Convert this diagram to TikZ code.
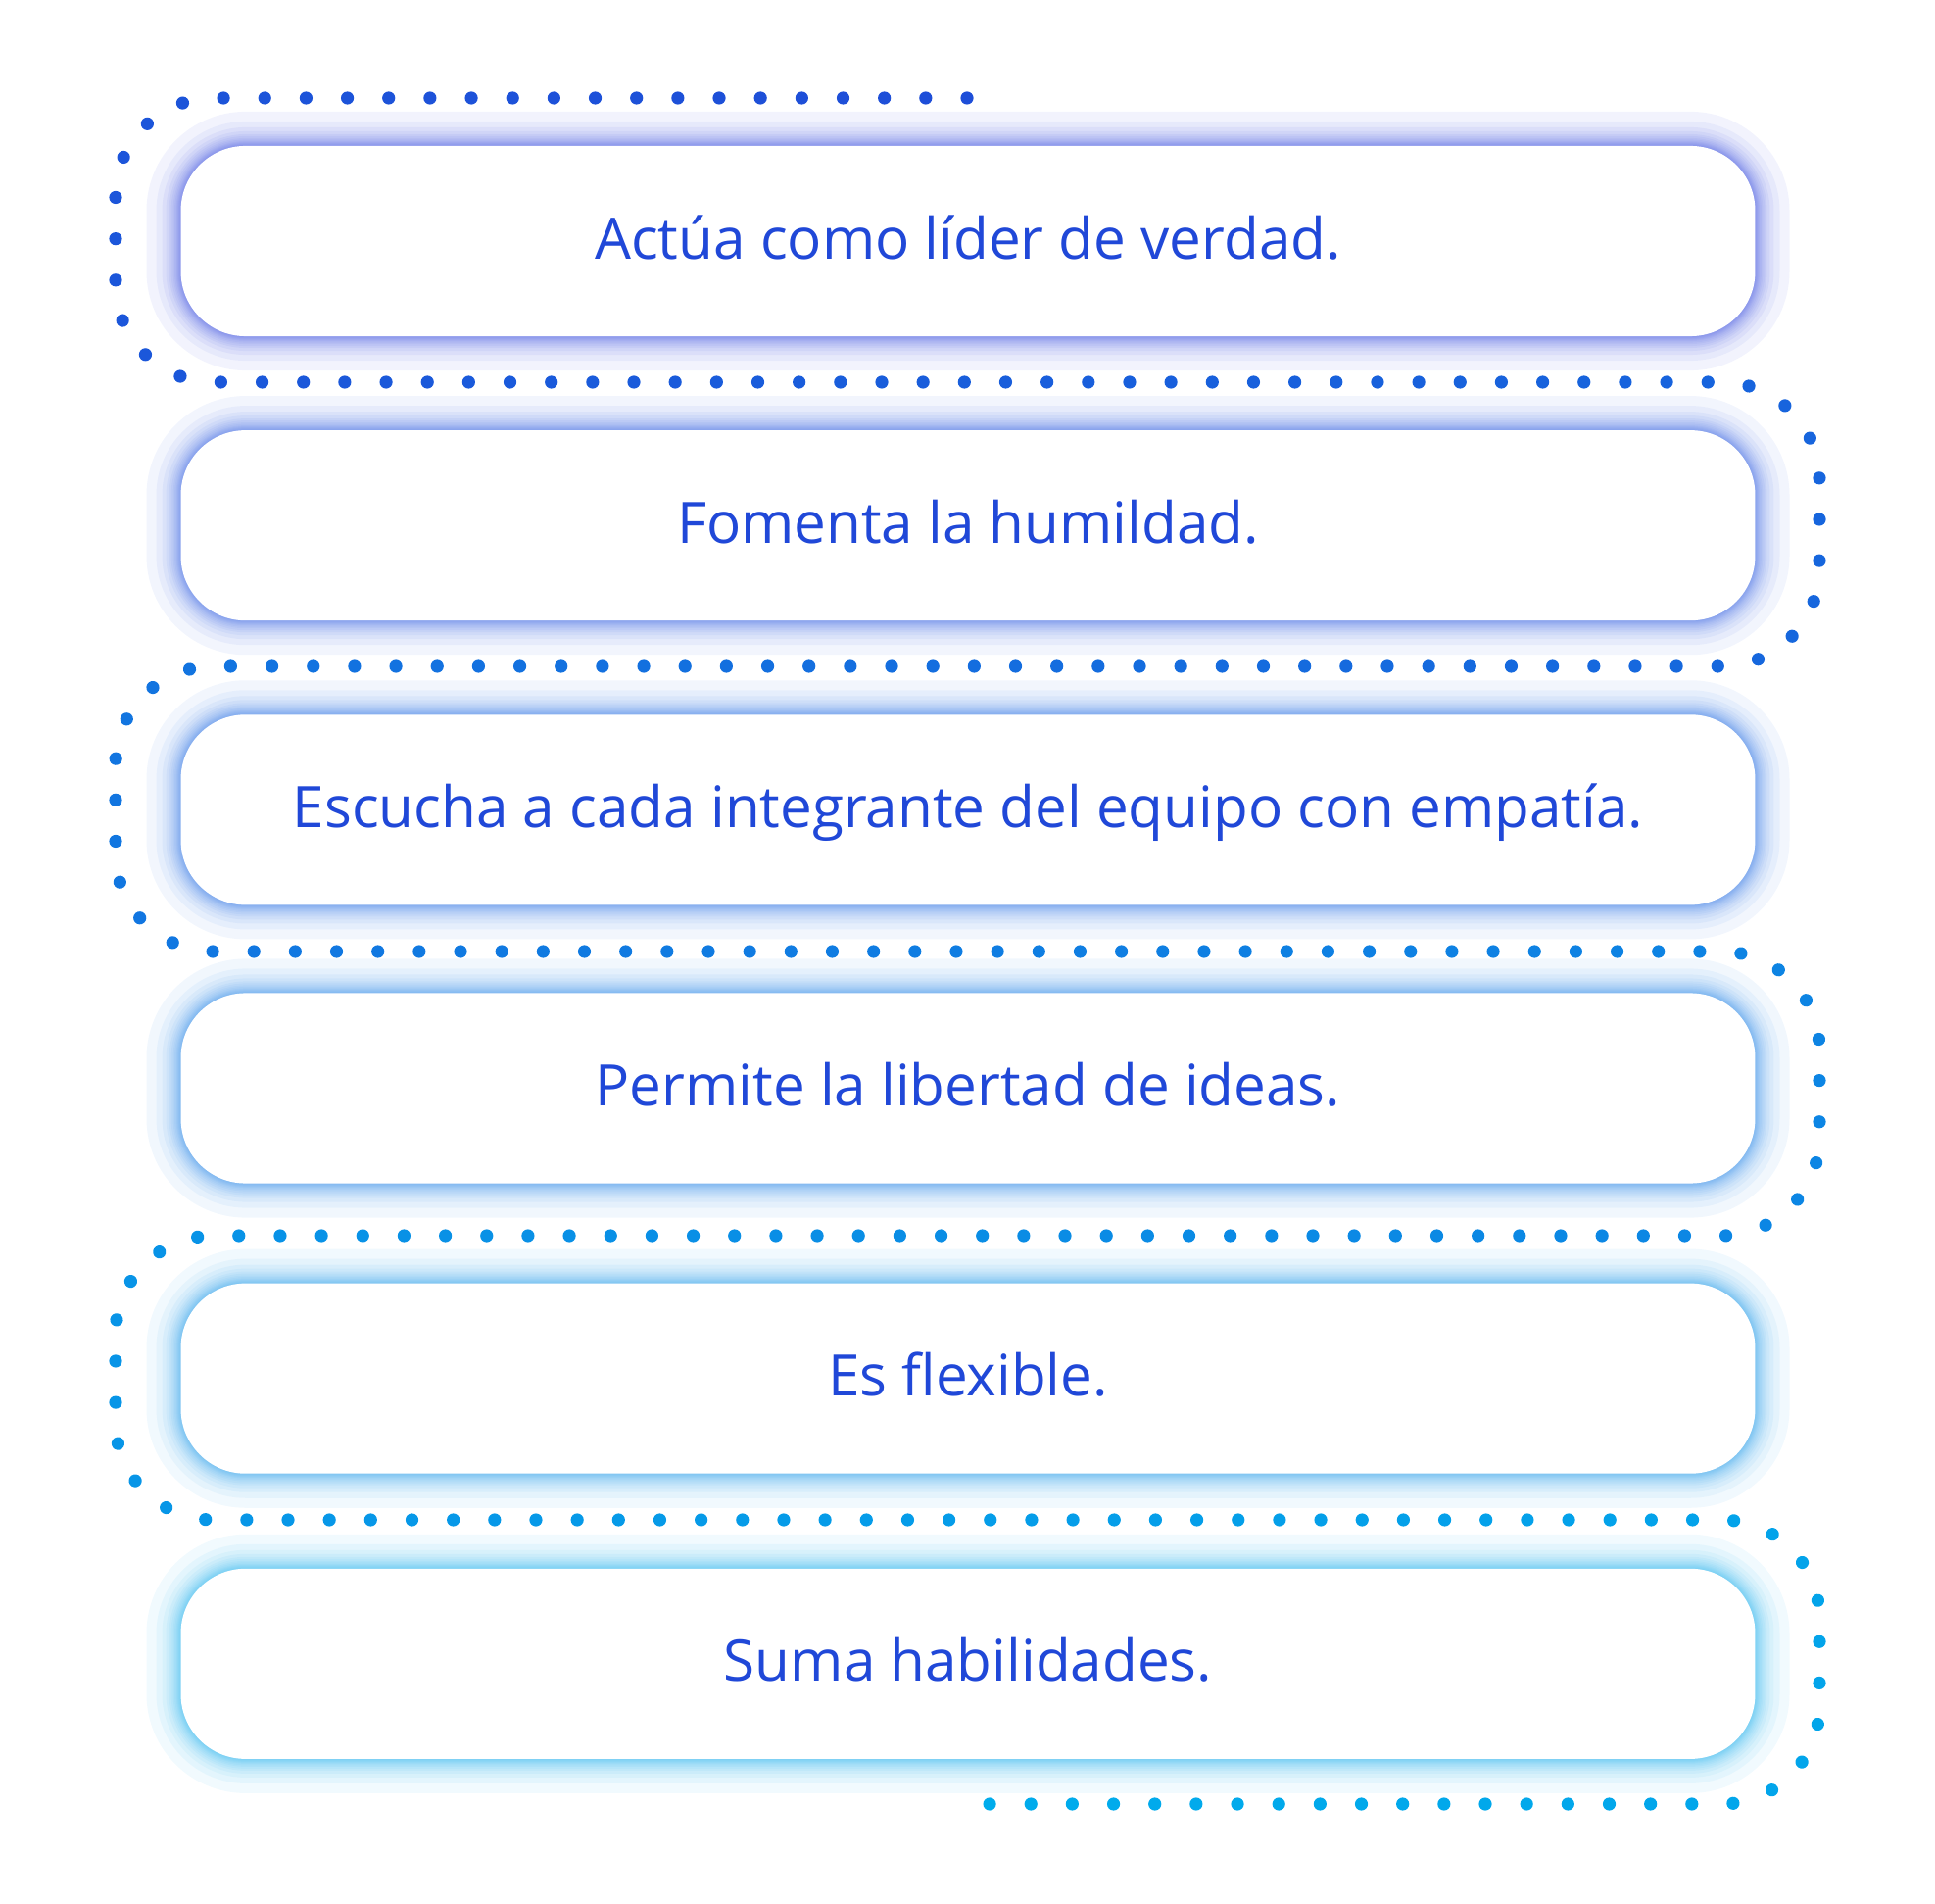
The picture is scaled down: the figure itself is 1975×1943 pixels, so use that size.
\documentclass[tikz,border=0pt]{standalone}
\usepackage{fontspec}
\setmainfont{Open Sans}
\usetikzlibrary{positioning,backgrounds,decorations.markings}
\definecolor{textblue}{RGB}{32,72,216}
\definecolor{dottop}{RGB}{30,78,216}
\definecolor{dotbot}{RGB}{0,172,236}
\definecolor{glowtop}{RGB}{62,82,222}
\definecolor{glowbot}{RGB}{40,178,236}
\colorlet{glowa}{glowtop}
\colorlet{glowb}{glowbot!20!glowtop}
\colorlet{glowc}{glowbot!40!glowtop}
\colorlet{glowd}{glowbot!60!glowtop}
\colorlet{glowe}{glowbot!80!glowtop}
\colorlet{glowf}{glowbot}

% one dot of the path, coloured by how far along it sits
\newcommand{\pathdot}{%
  \pgfmathsetmacro{\dotpc}{\pgfkeysvalueof{/pgf/decoration/mark info/distance from start}/\pgfdecoratedpathlength*100}%
  \fill[dotbot!\dotpc!dottop] (0,0) circle (0.066cm);}

\begin{document}
\begin{tikzpicture}[x=0.01cm, y=-0.01cm,
    item/.style={draw=none, fill=white, rounded corners=0.66cm, outer sep=0pt,
                 minimum width=16.06cm, minimum height=1.94cm, text=textblue,
                 text height=0.5cm, text depth=0.14cm,
                 font=\fontsize{16.6}{20}\selectfont},
    glow/.style={#1, opacity=0.065, rounded corners=0.66cm},
    dotpath/.style={decoration={markings,
                    mark=between positions 0 and 1 step 0.003623 with {\pathdot}}, decorate}
  ]
  \useasboundingbox (0,0) rectangle (1975,1943);

  \node[item] (act) at (988,246) {Actúa como líder de verdad.};
  \node[item, below=0.96cm of act] (hum) {Fomenta la humildad.};
  \node[item, below=0.96cm of hum] (esc) {Escucha a cada integrante del equipo con empatía.};
  \node[item, below=0.90cm of esc] (lib) {Permite la libertad de ideas.};
  \node[item, below=1.02cm of lib] (flex) {Es flexible.};
  \node[item, below=0.97cm of flex] (hab) {Suma habilidades.};

  % soft halo behind each box, denser near the edge
  \begin{scope}[on background layer]
    \foreach \b/\c in {act/glowa, hum/glowb, esc/glowc, lib/glowd, flex/glowe, hab/glowf}
      \foreach \r in {35,25,19,15,12,10,8,6.5,5,4,3,2,1}
        \draw[glow=\c, line width=\r*0.02cm] (\b.south west) rectangle (\b.north east);
  \end{scope}

  % dotted serpentine
  \path[dotpath, rounded corners=1cm] (987,100) -- (118,100) -- (118,390) -- (1857,390)
    -- (1857,680) -- (118,680) -- (118,971) -- (1857,971) -- (1857,1261)
    -- (118,1261) -- (118,1551) -- (1857,1551) -- (1857,1841) -- (988,1841);
\end{tikzpicture}
\end{document}
